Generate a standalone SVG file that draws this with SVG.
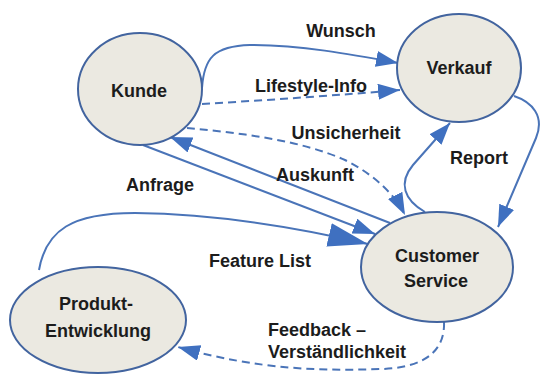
<svg xmlns="http://www.w3.org/2000/svg" width="541" height="375" viewBox="0 0 541 375">
<style>
.node ellipse{fill:#ebe9e1;stroke:#42649f;stroke-width:2}
.t{font-family:"Liberation Sans",Arial,sans-serif;font-weight:700;font-size:18px;fill:#1c1c1c}
.c{text-anchor:middle}
.ln{fill:none;stroke:#4a74b8;stroke-width:2}
.d{stroke-dasharray:8 5}
</style>
<defs>
<marker id="ah" markerUnits="userSpaceOnUse" markerWidth="24" markerHeight="18" refX="22" refY="8" orient="auto"><path d="M0,0 L22,8 L0,16 z" fill="#3f70c0"/></marker>
<marker id="ahL" markerUnits="userSpaceOnUse" markerWidth="42" markerHeight="26" refX="40" refY="12" orient="auto"><path d="M0,0 L40,12 L0,24 z" fill="#3f70c0"/></marker>
</defs>
<rect width="541" height="375" fill="#ffffff"/>
<g id="connectors">
<path class="ln" d="M202,88 C204,58 214,46 250,45 C300,45 350,54 398,63" marker-end="url(#ah)"/>
<path class="ln d" d="M202,104 C270,100 340,95 400,90" marker-end="url(#ah)"/>
<path class="ln d" d="M187,128 C240,133 300,140 345,160 C375,175 395,195 405,215" marker-end="url(#ah)"/>
<path class="ln" d="M390,223 L170,137" marker-end="url(#ah)"/>
<path class="ln" d="M143,145 L375,234" marker-end="url(#ah)"/>
<path class="ln" d="M39,270 C46,230 72,213 135,213 C220,214 300,228 368,244" marker-end="url(#ahL)"/>
<path class="ln" d="M514,96 C532,102 545,116 536,138 L498,227" marker-end="url(#ah)"/>
<path class="ln" d="M425,212 C404,200 398,183 413,165 L450,123" marker-end="url(#ah)"/>
<path class="ln d" d="M444,322 C445,345 432,367 383,369 C320,371 260,370 178,347" marker-end="url(#ah)"/>
</g>
<g id="kunde" class="node"><ellipse cx="140" cy="89" rx="62" ry="56"/><text class="t c" x="139" y="97">Kunde</text></g>
<g id="verkauf" class="node"><ellipse cx="459" cy="68" rx="62" ry="54"/><text class="t c" x="459" y="74">Verkauf</text></g>
<g id="customer-service" class="node"><ellipse cx="437" cy="267" rx="76" ry="55"/><text class="t c" x="437" y="262">Customer</text><text class="t c" x="436" y="287">Service</text></g>
<g id="produkt" class="node"><ellipse cx="98" cy="320" rx="88" ry="53"/><text class="t c" x="96" y="310">Produkt-</text><text class="t c" x="98" y="337">Entwicklung</text></g>
<g id="labels">
<text class="t c" x="341" y="37">Wunsch</text>
<text class="t c" x="311" y="92">Lifestyle-Info</text>
<text class="t c" x="346" y="139">Unsicherheit</text>
<text class="t c" x="479" y="164">Report</text>
<text class="t c" x="315" y="181">Auskunft</text>
<text class="t c" x="160" y="191">Anfrage</text>
<text class="t c" x="260" y="267">Feature List</text>
<text class="t" x="268" y="336">Feedback –</text>
<text class="t" x="268" y="358">Verständlichkeit</text>
</g>
</svg>
